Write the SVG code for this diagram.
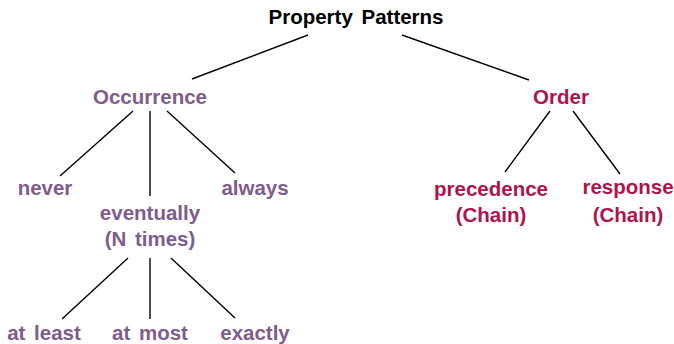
<svg xmlns="http://www.w3.org/2000/svg" width="674" height="344" viewBox="0 0 674 344">
  <style>
    text { font-family: "Liberation Sans", Arial, sans-serif; font-weight: bold; font-size: 20.5px; word-spacing: 3px; text-anchor: middle; }
    .root { fill: #000000; }
    .occ { fill: #7e5c8d; }
    .ord { fill: #b0134b; }
    .edge { stroke: #000000; stroke-width: 1.4; fill: none; stroke-linecap: butt; }
  </style>
  <rect width="674" height="344" fill="#ffffff"/>

  <!-- tree edges -->
  <g id="edges">
    <line class="edge" x1="308" y1="35" x2="192" y2="79"/>
    <line class="edge" x1="402" y1="35" x2="529" y2="80"/>
    <line class="edge" x1="133" y1="111" x2="60" y2="176"/>
    <line class="edge" x1="150" y1="111" x2="150" y2="196"/>
    <line class="edge" x1="167" y1="111" x2="235" y2="173"/>
    <line class="edge" x1="550" y1="111" x2="505" y2="172"/>
    <line class="edge" x1="573" y1="111" x2="620" y2="174"/>
    <line class="edge" x1="128" y1="258" x2="62" y2="319"/>
    <line class="edge" x1="150" y1="258" x2="150" y2="319"/>
    <line class="edge" x1="171" y1="258" x2="235" y2="318"/>
  </g>

  <g id="property-patterns"><text class="root" x="356" y="24">Property Patterns</text></g>

  <g id="occurrence"><text class="occ" x="150" y="104">Occurrence</text></g>
  <g id="never"><text class="occ" x="45" y="195">never</text></g>
  <g id="eventually">
    <text class="occ" x="150" y="220">eventually</text>
    <text class="occ" x="150" y="246">(N times)</text>
  </g>
  <g id="always"><text class="occ" x="255" y="195">always</text></g>
  <g id="at-least"><text class="occ" x="44" y="340">at least</text></g>
  <g id="at-most"><text class="occ" x="150" y="340">at most</text></g>
  <g id="exactly"><text class="occ" x="255" y="340">exactly</text></g>

  <g id="order"><text class="ord" x="561" y="104">Order</text></g>
  <g id="precedence">
    <text class="ord" x="491" y="196">precedence</text>
    <text class="ord" x="491" y="222">(Chain)</text>
  </g>
  <g id="response">
    <text class="ord" x="628" y="194">response</text>
    <text class="ord" x="628" y="222">(Chain)</text>
  </g>
</svg>
